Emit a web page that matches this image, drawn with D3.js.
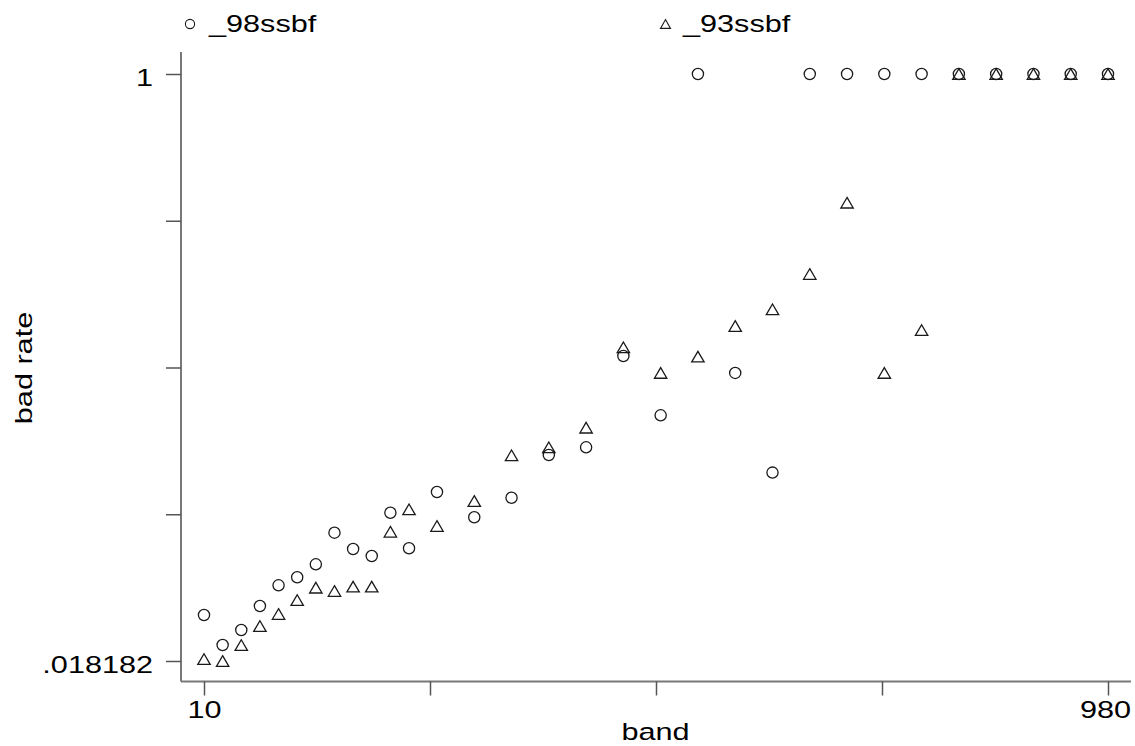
<!DOCTYPE html>
<html>
<head>
<meta charset="utf-8">
<script src="https://cdn.jsdelivr.net/npm/d3@7"></script>
<style>
  body { margin: 0; background: #fff; }
  svg { display: block; font-family: "Liberation Sans", Arial, Helvetica, sans-serif; }
</style>
</head>
<body>
<svg id="chart"></svg>
<script>
// bad rate by score band, two samples
const bands = [10, 30, 50, 70, 90, 110, 130, 150, 170, 190, 210, 230, 260, 300, 340, 380,
  420, 460, 500, 540, 580, 620, 660, 700, 740, 780, 820, 860, 900, 940, 980];
const rate98 = [0.0951, 0.0449, 0.0700, 0.1102, 0.1448, 0.1582, 0.1799, 0.2328, 0.2055, 0.1938,
  0.2662, 0.2067, 0.3009, 0.2586, 0.2913, 0.3627, 0.3756, 0.5283, 0.4291, 1, 0.5, 0.3333,
  1, 1, 1, 1, 1, 1, 1, 1, 1];
const rate93 = [0.0215, 0.018182, 0.0449, 0.0767, 0.0968, 0.1202, 0.1408, 0.1353, 0.1425, 0.1425,
  0.2344, 0.2719, 0.2440, 0.2858, 0.3622, 0.3756, 0.4084, 0.5429, 0.5, 0.5272, 0.5785, 0.6064,
  0.6655, 0.7847, 0.5, 0.5718, 1, 1, 1, 1, 1];

const xTicks = [10, 252.5, 495, 737.5, 980];
const xTickLabels = ['10', '', '', '', '980'];
const yTicks = [0.018182, 0.263636, 0.509091, 0.754545, 1];
const yTickLabels = ['.018182', '', '', '', '1'];
const seriesNames = ['_98ssbf', '_93ssbf'];

const width = 1135, height = 746;
const FONT = 24.5, STRETCH = 1.25;   // glyphs in the original are drawn wide

const svg = d3.select('#chart').attr('width', width).attr('height', height);
svg.append('rect').attr('width', width).attr('height', height).attr('fill', '#fff');

const x = d3.scaleLinear().domain([10, 980]).range([204, 1108]);
const y = d3.scaleLinear().domain([0.018182, 1]).range([661, 74]);

const axisX0 = 181, axisX1 = 1131, axisY0 = 52, axisY1 = 681.5;
const axisColor = '#787878';

function wideText(parent, tx, ty, str, anchor, rotate) {
  const g = parent.append('g')
    .attr('transform', `translate(${tx},${ty})${rotate ? ' rotate(-90)' : ''}`);
  g.append('text')
    .attr('transform', `scale(${STRETCH},1)`)
    .attr('text-anchor', anchor)
    .attr('font-size', FONT)
    .attr('fill', '#000')
    .text(str);
  return g;
}

// axis lines run past the data range, like the original
svg.append('line').attr('x1', axisX0).attr('x2', axisX0).attr('y1', axisY0).attr('y2', axisY1)
  .attr('stroke', axisColor).attr('stroke-width', 2);
svg.append('line').attr('x1', axisX0).attr('x2', axisX1).attr('y1', axisY1).attr('y2', axisY1)
  .attr('stroke', axisColor).attr('stroke-width', 2);

// y axis
const yAxis = svg.append('g').attr('transform', `translate(${axisX0},0)`)
  .call(d3.axisLeft(y).tickValues(yTicks).tickSize(15).tickPadding(13)
    .tickFormat((d, i) => yTickLabels[i]));
yAxis.select('.domain').remove();
yAxis.selectAll('.tick line').attr('stroke', '#555').attr('stroke-width', 1.5);
yAxis.selectAll('.tick text')
  .attr('font-size', FONT).attr('fill', '#000')
  .attr('x', -28 / STRETCH).attr('dy', 11.5)
  .attr('transform', `scale(${STRETCH},1)`);

// x axis
const xAxis = svg.append('g').attr('transform', `translate(0,${axisY1})`)
  .call(d3.axisBottom(x).tickValues(xTicks).tickSize(14).tickPadding(0)
    .tickFormat((d, i) => xTickLabels[i]));
xAxis.select('.domain').remove();
xAxis.selectAll('.tick line').attr('stroke', '#555').attr('stroke-width', 1.5);
xAxis.selectAll('.tick text')
  .attr('font-size', FONT).attr('fill', '#000')
  .attr('y', 36.5).attr('dy', 0)
  .attr('transform', `scale(${STRETCH},1)`);
// 980 sits a touch left of its tick in the original
xAxis.selectAll('.tick text').filter((d, i) => i === xTicks.length - 1).attr('x', -3 / STRETCH);

// axis titles
wideText(svg, 655.5, 740, 'band', 'middle', false);
wideText(svg, 31.5, 368, 'bad rate', 'middle', true);

// markers
const markerStroke = '#1a1a1a';
const triPath = (hw, h) => `M0,${-h / 2}L${hw},${h / 2}L${-hw},${h / 2}Z`;

const pts98 = bands.map((b, i) => ({ band: b, rate: rate98[i] }));
const pts93 = bands.map((b, i) => ({ band: b, rate: rate93[i] }));

svg.append('g').selectAll('circle').data(pts98).join('circle')
  .attr('cx', d => x(d.band)).attr('cy', d => y(d.rate)).attr('r', 5.6)
  .attr('fill', 'none').attr('stroke', markerStroke).attr('stroke-width', 1.3);

svg.append('g').selectAll('path').data(pts93).join('path')
  .attr('transform', d => `translate(${x(d.band)},${y(d.rate)})`)
  .attr('d', triPath(6.2, 10.6))
  .attr('fill', 'none').attr('stroke', markerStroke).attr('stroke-width', 1.3)
  .attr('stroke-linejoin', 'miter');

// legend
const legend = svg.append('g');
legend.append('circle').attr('cx', 190).attr('cy', 24).attr('r', 4.6)
  .attr('fill', 'none').attr('stroke', markerStroke).attr('stroke-width', 1.1);
wideText(legend, 209, 32, seriesNames[0], 'start', false);
legend.append('path').attr('transform', 'translate(665.5,24)').attr('d', triPath(5, 8.8))
  .attr('fill', 'none').attr('stroke', markerStroke).attr('stroke-width', 1.1);
wideText(legend, 683, 32, seriesNames[1], 'start', false);
</script>
</body>
</html>
